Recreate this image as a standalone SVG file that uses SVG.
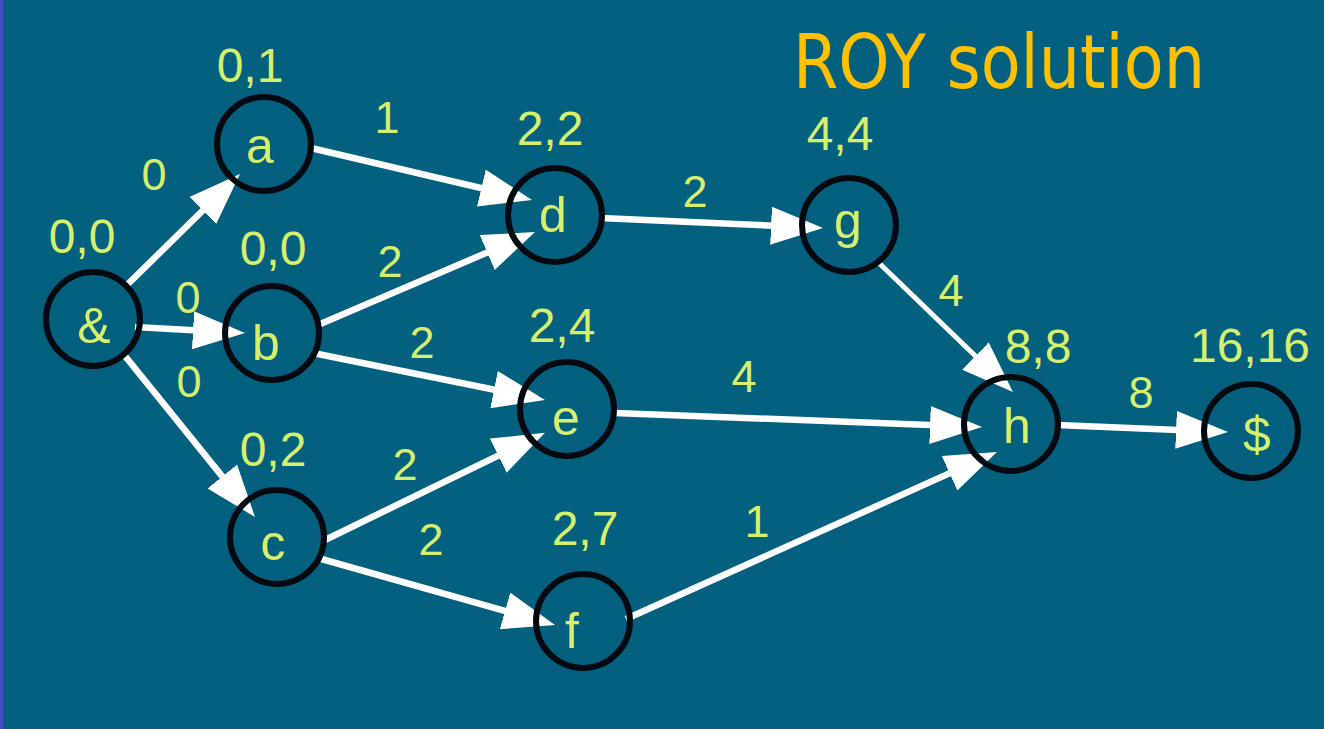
<svg xmlns="http://www.w3.org/2000/svg" width="1324" height="729" viewBox="0 0 1324 729">
  <defs>
    <style>
      .node circle { fill: none; stroke: #050a10; stroke-width: 6; }
      .name { font-family: "Liberation Sans", Arial, sans-serif; font-size: 50px; fill: #d6ef6c; text-anchor: middle; }
      .pair { font-family: "Liberation Sans", Arial, sans-serif; font-size: 48px; fill: #d6ef6c; text-anchor: middle; }
      .weight { font-family: "Liberation Sans", Arial, sans-serif; font-size: 45px; fill: #d6ef6c; text-anchor: middle; }
      .edge { stroke: #ffffff; stroke-width: 6.5; fill: none; marker-end: url(#head); }
      .title { font-family: "DejaVu Sans", Verdana, sans-serif; font-size: 75px; fill: #ffc000; }
    </style>
    <marker id="head" markerUnits="userSpaceOnUse" markerWidth="52" markerHeight="38" refX="32" refY="19" orient="auto">
      <path d="M0,0 L52,19 L0,38 Z" fill="#ffffff"/>
    </marker>
  </defs>

  <!-- background -->
  <rect x="0" y="0" width="1324" height="729" fill="#04607f"/>
  <rect x="0" y="0" width="3" height="729" fill="#4a4ac4"/>

  <text class="title" x="793" y="88" textLength="412" lengthAdjust="spacingAndGlyphs">ROY solution</text>

  <!-- connectors -->
  <g id="edges">
    <line class="edge" x1="128" y1="284" x2="225.7" y2="188"/>
    <line class="edge" x1="135" y1="327" x2="225" y2="332"/>
    <line class="edge" x1="125" y1="356" x2="242.4" y2="501.4"/>
    <line class="edge" x1="311" y1="148" x2="512.5" y2="195.4"/>
    <line class="edge" x1="318" y1="325" x2="516.6" y2="239.9"/>
    <line class="edge" x1="313" y1="353" x2="525.4" y2="396"/>
    <line class="edge" x1="325" y1="540" x2="527" y2="441.6"/>
    <line class="edge" x1="318" y1="558" x2="535.8" y2="619.6"/>
    <line class="edge" x1="600" y1="218" x2="803" y2="227.1"/>
    <line class="edge" x1="879" y1="263" x2="998.5" y2="378.2" style="stroke-width:5"/>
    <line class="edge" x1="615" y1="413" x2="962" y2="426.2"/>
    <line class="edge" x1="626" y1="619" x2="978.7" y2="460.1"/>
    <line class="edge" x1="1057" y1="425" x2="1208" y2="431.2"/>

    <!-- edge weights -->
    <text class="weight" x="154" y="190">0</text>
    <text class="weight" x="188" y="313">0</text>
    <text class="weight" x="189" y="397">0</text>
    <text class="weight" x="387" y="133">1</text>
    <text class="weight" x="390" y="277">2</text>
    <text class="weight" x="422" y="358">2</text>
    <text class="weight" x="405" y="480">2</text>
    <text class="weight" x="431" y="555">2</text>
    <text class="weight" x="695" y="207">2</text>
    <text class="weight" x="951" y="306">4</text>
    <text class="weight" x="744" y="392">4</text>
    <text class="weight" x="757" y="537">1</text>
    <text class="weight" x="1141" y="408">8</text>
  </g>

  <!-- nodes -->
  <g id="node-start" class="node">
    <circle cx="93" cy="319" r="47"/>
    <text class="name" x="94" y="343">&amp;</text>
    <text class="pair" x="82" y="253">0,0</text>
  </g>
  <g id="node-a" class="node">
    <circle cx="264" cy="144" r="47"/>
    <text class="name" x="260" y="163">a</text>
    <text class="pair" x="250" y="82">0,1</text>
  </g>
  <g id="node-b" class="node">
    <circle cx="272" cy="333" r="47"/>
    <text class="name" x="266" y="360">b</text>
    <text class="pair" x="273" y="265">0,0</text>
  </g>
  <g id="node-c" class="node">
    <circle cx="277" cy="537" r="47"/>
    <text class="name" x="273" y="560">c</text>
    <text class="pair" x="273" y="466">0,2</text>
  </g>
  <g id="node-d" class="node">
    <circle cx="555" cy="215" r="47"/>
    <text class="name" x="553" y="232">d</text>
    <text class="pair" x="550" y="145">2,2</text>
  </g>
  <g id="node-e" class="node">
    <circle cx="567" cy="409" r="47"/>
    <text class="name" x="566" y="435">e</text>
    <text class="pair" x="562" y="342">2,4</text>
  </g>
  <g id="node-f" class="node">
    <circle cx="583" cy="621" r="47"/>
    <text class="name" x="572" y="648">f</text>
    <text class="pair" x="585" y="545">2,7</text>
  </g>
  <g id="node-g" class="node">
    <circle cx="849" cy="225" r="47"/>
    <text class="name" x="848" y="238">g</text>
    <text class="pair" x="840" y="150">4,4</text>
  </g>
  <g id="node-h" class="node">
    <circle cx="1011" cy="424" r="47"/>
    <text class="name" x="1017" y="443">h</text>
    <text class="pair" x="1038" y="363">8,8</text>
  </g>
  <g id="node-end" class="node">
    <circle cx="1251" cy="431" r="47"/>
    <text class="name" x="1257" y="452">$</text>
    <text class="pair" x="1250" y="362">16,16</text>
  </g>
</svg>
